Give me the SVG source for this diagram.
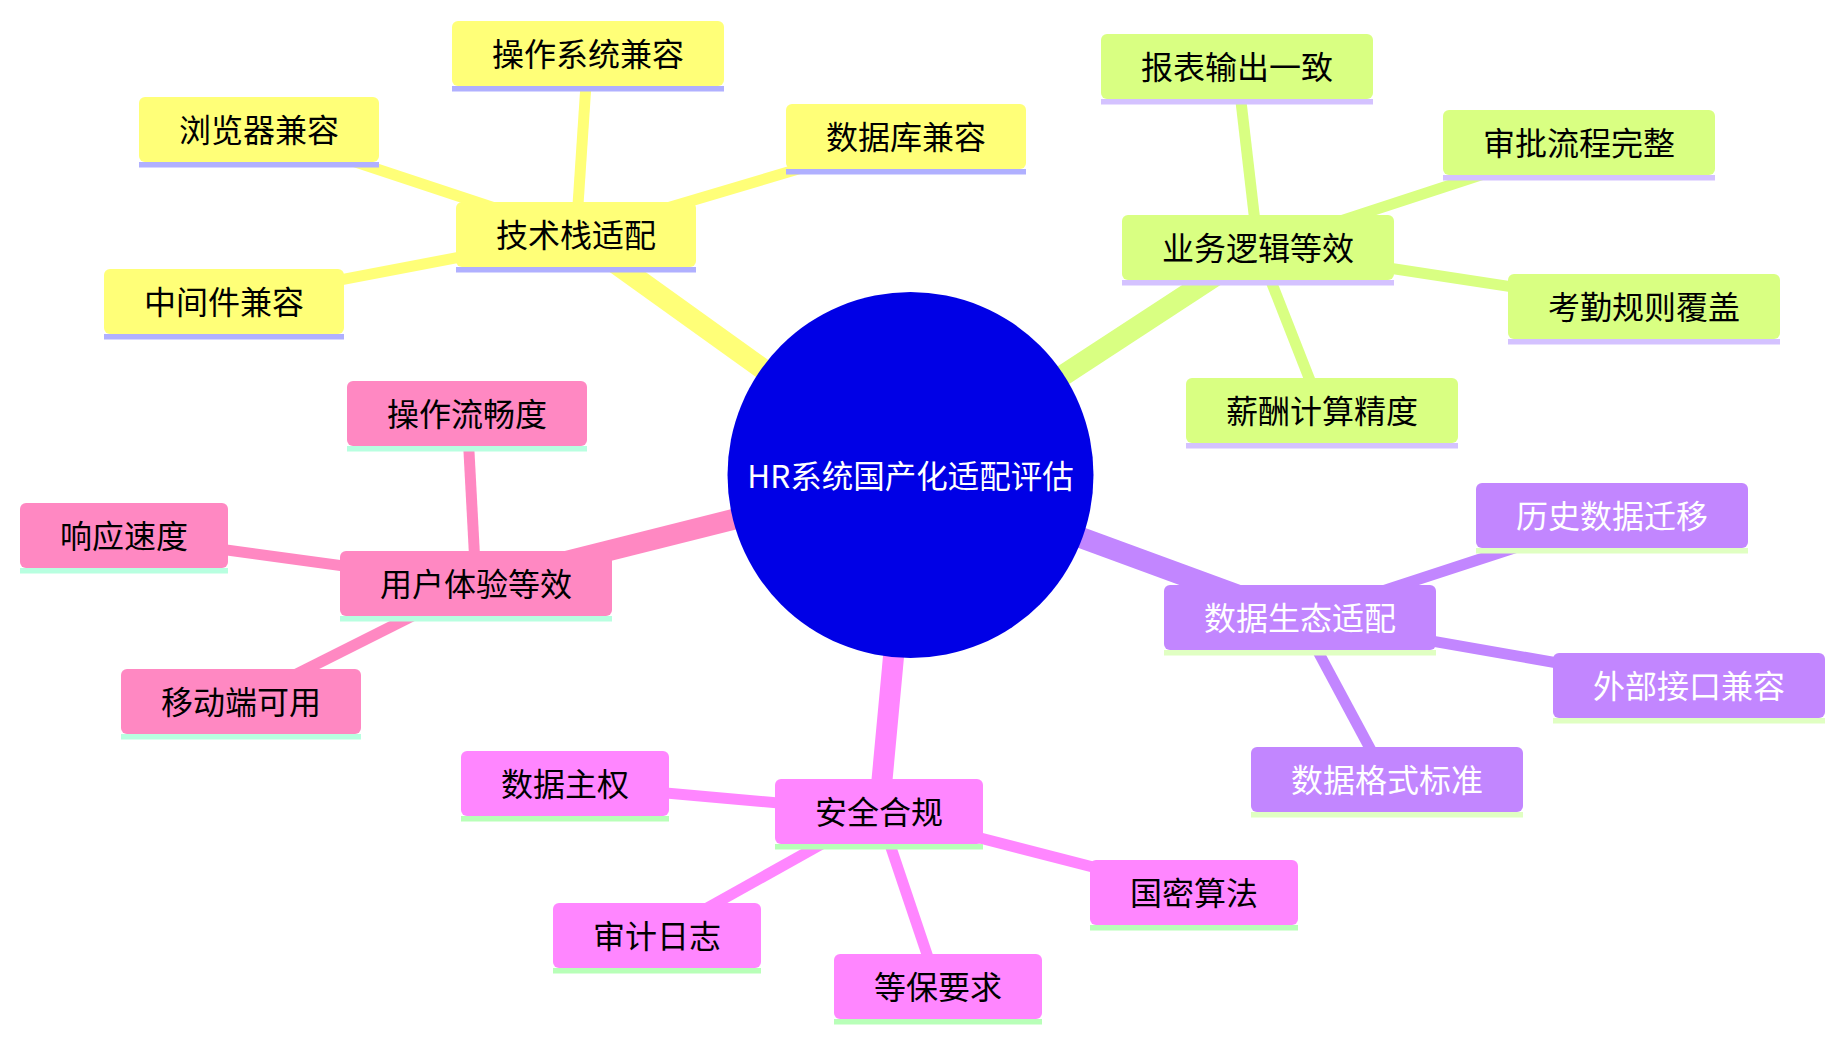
<svg xmlns="http://www.w3.org/2000/svg" width="1844" height="1042" viewBox="0 0 1844 1042">
<style>
text{font-family:"Noto Sans CJK SC","Noto Sans",sans-serif;font-size:32px;text-anchor:middle;dominant-baseline:central}
.e0{stroke-width:21;stroke-linecap:butt;fill:none}
.e1{stroke-width:11;stroke-linecap:butt;fill:none}
.s1 .b{fill:#ffff78}.s1 .u{fill:#b0b0ff}.c1{stroke:#ffff78}
.s2 .b{fill:#d9ff82}.s2 .u{fill:#d4c2ff}.c2{stroke:#d9ff82}
.s3 .b{fill:#c286ff}.s3 .u{fill:#e0ffc2}.c3{stroke:#c286ff}
.s4 .b{fill:#ff86ff}.s4 .u{fill:#b8ffb8}.c4{stroke:#ff86ff}
.s5 .b{fill:#ff88c2}.s5 .u{fill:#b8ffe0}.c5{stroke:#ff88c2}
.s1 text,.s2 text,.s4 text,.s5 text{fill:#000}
.s3 text{fill:#fff}
</style>
<g id="connectors">
<line class="e0 c1" x1="910.5" y1="475" x2="576" y2="235"/>
<line class="e0 c2" x1="910.5" y1="475" x2="1258" y2="248"/>
<line class="e0 c5" x1="910.5" y1="475" x2="476" y2="584"/>
<line class="e0 c3" x1="910.5" y1="475" x2="1300" y2="618"/>
<line class="e0 c4" x1="910.5" y1="475" x2="879" y2="812"/>
<line class="e1 c1" x1="576" y1="235" x2="588" y2="54"/>
<line class="e1 c1" x1="576" y1="235" x2="259" y2="130"/>
<line class="e1 c1" x1="576" y1="235" x2="906" y2="137"/>
<line class="e1 c1" x1="576" y1="235" x2="224" y2="302"/>
<line class="e1 c2" x1="1258" y1="248" x2="1237" y2="67"/>
<line class="e1 c2" x1="1258" y1="248" x2="1579" y2="143"/>
<line class="e1 c2" x1="1258" y1="248" x2="1644" y2="307"/>
<line class="e1 c2" x1="1258" y1="248" x2="1322" y2="411"/>
<line class="e1 c5" x1="476" y1="584" x2="467" y2="414"/>
<line class="e1 c5" x1="476" y1="584" x2="124" y2="536"/>
<line class="e1 c5" x1="476" y1="584" x2="241" y2="702"/>
<line class="e1 c3" x1="1300" y1="618" x2="1612" y2="516"/>
<line class="e1 c3" x1="1300" y1="618" x2="1689" y2="686"/>
<line class="e1 c3" x1="1300" y1="618" x2="1387" y2="780"/>
<line class="e1 c4" x1="879" y1="812" x2="565" y2="784"/>
<line class="e1 c4" x1="879" y1="812" x2="657" y2="936"/>
<line class="e1 c4" x1="879" y1="812" x2="938" y2="987"/>
<line class="e1 c4" x1="879" y1="812" x2="1194" y2="893"/>
</g>
<g id="root">
<circle cx="910.5" cy="475" r="183" fill="#0000e6"/>
<text x="910.5" y="474" style="font-size:31.5px;fill:#fff">HR系统国产化适配评估</text>
</g>
<g id="n-tech" class="s1"><rect class="b" x="456" y="202" width="240" height="65" rx="6"/><rect class="u" x="456" y="267" width="240" height="5.5"/><text x="576" y="233">技术栈适配</text></g>
<g id="n-os" class="s1"><rect class="b" x="452" y="21" width="272" height="65" rx="6"/><rect class="u" x="452" y="86" width="272" height="5.5"/><text x="588" y="52">操作系统兼容</text></g>
<g id="n-browser" class="s1"><rect class="b" x="139" y="97" width="240" height="65" rx="6"/><rect class="u" x="139" y="162" width="240" height="5.5"/><text x="259" y="128">浏览器兼容</text></g>
<g id="n-db" class="s1"><rect class="b" x="786" y="104" width="240" height="65" rx="6"/><rect class="u" x="786" y="169" width="240" height="5.5"/><text x="906" y="135">数据库兼容</text></g>
<g id="n-mw" class="s1"><rect class="b" x="104" y="269" width="240" height="65" rx="6"/><rect class="u" x="104" y="334" width="240" height="5.5"/><text x="224" y="300">中间件兼容</text></g>

<g id="n-biz" class="s2"><rect class="b" x="1122" y="215" width="272" height="65" rx="6"/><rect class="u" x="1122" y="280" width="272" height="5.5"/><text x="1258" y="246">业务逻辑等效</text></g>
<g id="n-report" class="s2"><rect class="b" x="1101" y="34" width="272" height="65" rx="6"/><rect class="u" x="1101" y="99" width="272" height="5.5"/><text x="1237" y="65">报表输出一致</text></g>
<g id="n-approve" class="s2"><rect class="b" x="1443" y="110" width="272" height="65" rx="6"/><rect class="u" x="1443" y="175" width="272" height="5.5"/><text x="1579" y="141">审批流程完整</text></g>
<g id="n-attend" class="s2"><rect class="b" x="1508" y="274" width="272" height="65" rx="6"/><rect class="u" x="1508" y="339" width="272" height="5.5"/><text x="1644" y="305">考勤规则覆盖</text></g>
<g id="n-salary" class="s2"><rect class="b" x="1186" y="378" width="272" height="65" rx="6"/><rect class="u" x="1186" y="443" width="272" height="5.5"/><text x="1322" y="409">薪酬计算精度</text></g>

<g id="n-ux" class="s5"><rect class="b" x="340" y="551" width="272" height="65" rx="6"/><rect class="u" x="340" y="616" width="272" height="5.5"/><text x="476" y="582">用户体验等效</text></g>
<g id="n-smooth" class="s5"><rect class="b" x="347" y="381" width="240" height="65" rx="6"/><rect class="u" x="347" y="446" width="240" height="5.5"/><text x="467" y="412">操作流畅度</text></g>
<g id="n-speed" class="s5"><rect class="b" x="20" y="503" width="208" height="65" rx="6"/><rect class="u" x="20" y="568" width="208" height="5.5"/><text x="124" y="534">响应速度</text></g>
<g id="n-mobile" class="s5"><rect class="b" x="121" y="669" width="240" height="65" rx="6"/><rect class="u" x="121" y="734" width="240" height="5.5"/><text x="241" y="700">移动端可用</text></g>

<g id="n-data" class="s3"><rect class="b" x="1164" y="585" width="272" height="65" rx="6"/><rect class="u" x="1164" y="650" width="272" height="5.5"/><text x="1300" y="616">数据生态适配</text></g>
<g id="n-migrate" class="s3"><rect class="b" x="1476" y="483" width="272" height="65" rx="6"/><rect class="u" x="1476" y="548" width="272" height="5.5"/><text x="1612" y="514">历史数据迁移</text></g>
<g id="n-api" class="s3"><rect class="b" x="1553" y="653" width="272" height="65" rx="6"/><rect class="u" x="1553" y="718" width="272" height="5.5"/><text x="1689" y="684">外部接口兼容</text></g>
<g id="n-format" class="s3"><rect class="b" x="1251" y="747" width="272" height="65" rx="6"/><rect class="u" x="1251" y="812" width="272" height="5.5"/><text x="1387" y="778">数据格式标准</text></g>

<g id="n-sec" class="s4"><rect class="b" x="775" y="779" width="208" height="65" rx="6"/><rect class="u" x="775" y="844" width="208" height="5.5"/><text x="879" y="810">安全合规</text></g>
<g id="n-sovereign" class="s4"><rect class="b" x="461" y="751" width="208" height="65" rx="6"/><rect class="u" x="461" y="816" width="208" height="5.5"/><text x="565" y="782">数据主权</text></g>
<g id="n-audit" class="s4"><rect class="b" x="553" y="903" width="208" height="65" rx="6"/><rect class="u" x="553" y="968" width="208" height="5.5"/><text x="657" y="934">审计日志</text></g>
<g id="n-level" class="s4"><rect class="b" x="834" y="954" width="208" height="65" rx="6"/><rect class="u" x="834" y="1019" width="208" height="5.5"/><text x="938" y="985">等保要求</text></g>
<g id="n-crypto" class="s4"><rect class="b" x="1090" y="860" width="208" height="65" rx="6"/><rect class="u" x="1090" y="925" width="208" height="5.5"/><text x="1194" y="891">国密算法</text></g>
</svg>
